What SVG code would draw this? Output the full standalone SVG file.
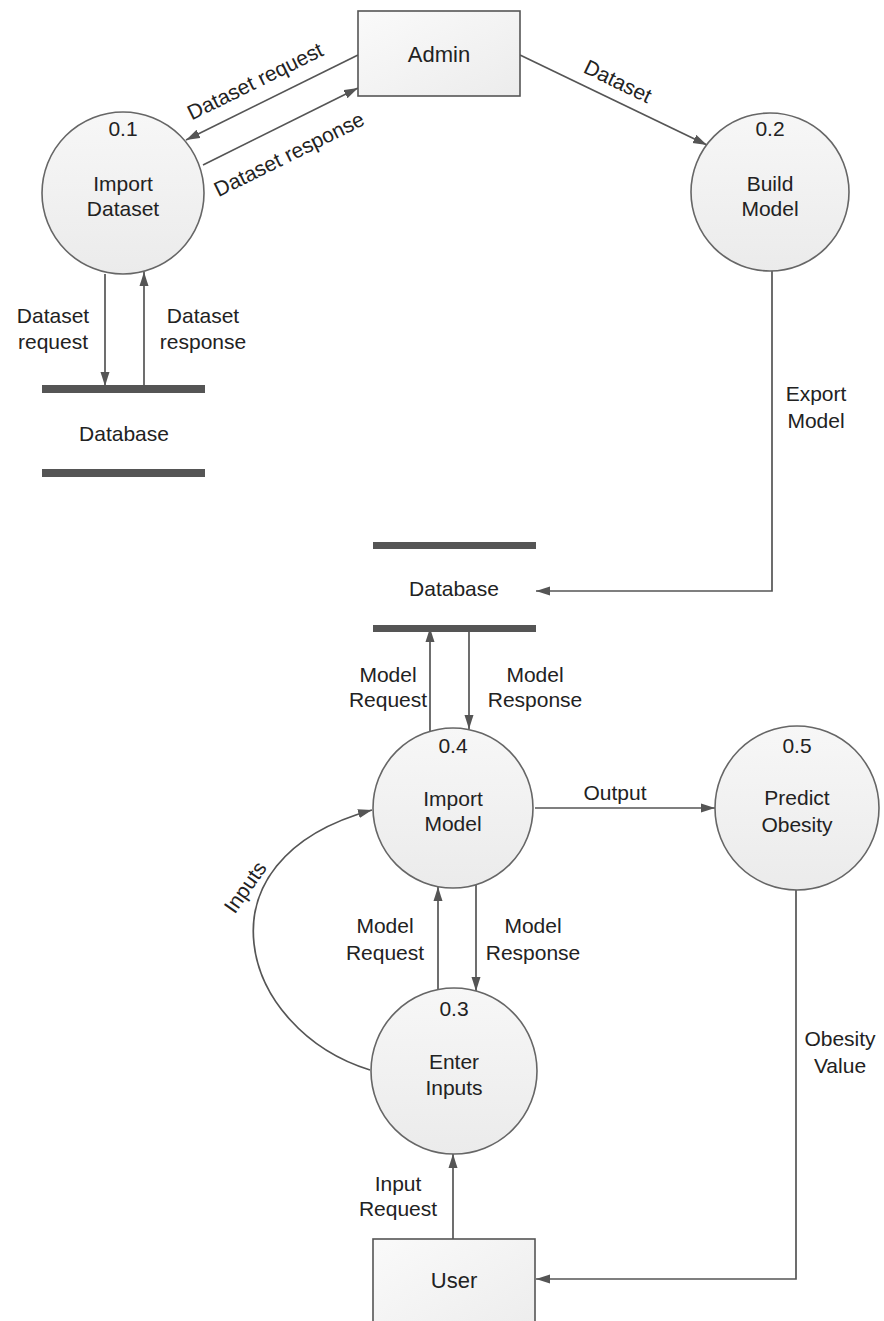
<svg xmlns="http://www.w3.org/2000/svg" width="884" height="1321" viewBox="0 0 884 1321">
  <defs>
    <linearGradient id="procFill" x1="0" y1="0" x2="0" y2="1">
      <stop offset="0" stop-color="#f7f7f7"/>
      <stop offset="1" stop-color="#ebebeb"/>
    </linearGradient>
    <linearGradient id="entFill" x1="0" y1="0" x2="1" y2="1">
      <stop offset="0" stop-color="#fafafa"/>
      <stop offset="1" stop-color="#ececec"/>
    </linearGradient>
    <marker id="arrow" viewBox="0 0 14 10" refX="14" refY="5" markerWidth="14" markerHeight="10" markerUnits="userSpaceOnUse" orient="auto">
      <path d="M0,0.5 L14,5 L0,9.5 Z" fill="#555"/>
    </marker>
    <style>
      text { font-family: "Liberation Sans", Arial, sans-serif; font-size: 21px; fill: #222; text-anchor: middle; dominant-baseline: central; }
      .proc { fill: url(#procFill); stroke: #666; stroke-width: 1.6; }
      .ent { fill: url(#entFill); stroke: #555; stroke-width: 1.6; }
      .store { fill: #555; }
      .flow { fill: none; stroke: #555; stroke-width: 1.7; marker-end: url(#arrow); }
      .big { font-size: 22px; }
    </style>
  </defs>

  <rect width="884" height="1321" fill="#ffffff"/>

  <!-- data flows -->
  <g id="connectors">
    <path class="flow" d="M358,55 L186,140"/>
    <path class="flow" d="M203,165 L358,88"/>
    <path class="flow" d="M520,55 L707,145"/>
    <path class="flow" d="M105,274 V386"/>
    <path class="flow" d="M144,386 V272"/>
    <path class="flow" d="M772,271 V591 H536"/>
    <path class="flow" d="M430,731 V628"/>
    <path class="flow" d="M469,628 V729"/>
    <path class="flow" d="M535,808 H715"/>
    <path class="flow" d="M438,990 V887"/>
    <path class="flow" d="M476,885 V991"/>
    <path class="flow" d="M370,1070 C240,1030 190,860 372,810"/>
    <path class="flow" d="M453,1239 V1154"/>
    <path class="flow" d="M796,890 V1279 H536"/>

    <!-- flow labels -->
    <text transform="translate(255,81) rotate(-26.3)">Dataset request</text>
    <text transform="translate(289,154) rotate(-26.4)">Dataset response</text>
    <text transform="translate(618,81) rotate(25.9)">Dataset</text>
    <text x="53" y="315">Dataset</text>
    <text x="53" y="341">request</text>
    <text x="203" y="315">Dataset</text>
    <text x="203" y="341">response</text>
    <text x="816" y="393">Export</text>
    <text x="816" y="420">Model</text>
    <text x="388" y="674">Model</text>
    <text x="388" y="699">Request</text>
    <text x="535" y="674">Model</text>
    <text x="535" y="699">Response</text>
    <text x="615" y="792">Output</text>
    <text transform="translate(245,887) rotate(-55)">Inputs</text>
    <text x="385" y="925">Model</text>
    <text x="385" y="952">Request</text>
    <text x="533" y="925">Model</text>
    <text x="533" y="952">Response</text>
    <text x="840" y="1038">Obesity</text>
    <text x="840" y="1065">Value</text>
    <text x="398" y="1183">Input</text>
    <text x="398" y="1208">Request</text>
  </g>

  <!-- external entities -->
  <g id="admin">
    <rect class="ent" x="358" y="11" width="162" height="85"/>
    <text class="big" x="439" y="54">Admin</text>
  </g>
  <g id="user">
    <rect class="ent" x="373" y="1239" width="162" height="100"/>
    <text class="big" x="454" y="1280">User</text>
  </g>

  <!-- processes -->
  <g id="p01">
    <circle class="proc" cx="123" cy="193" r="81"/>
    <text x="123" y="128">0.1</text>
    <text x="123" y="183">Import</text>
    <text x="123" y="208">Dataset</text>
  </g>
  <g id="p02">
    <circle class="proc" cx="770" cy="192" r="79"/>
    <text x="770" y="128">0.2</text>
    <text x="770" y="183">Build</text>
    <text x="770" y="208">Model</text>
  </g>
  <g id="p04">
    <circle class="proc" cx="453" cy="808" r="80"/>
    <text x="453" y="745">0.4</text>
    <text x="453" y="798">Import</text>
    <text x="453" y="823">Model</text>
  </g>
  <g id="p05">
    <circle class="proc" cx="797" cy="808" r="82"/>
    <text x="797" y="745">0.5</text>
    <text x="797" y="797">Predict</text>
    <text x="797" y="824">Obesity</text>
  </g>
  <g id="p03">
    <circle class="proc" cx="454" cy="1071" r="83"/>
    <text x="454" y="1008">0.3</text>
    <text x="454" y="1061">Enter</text>
    <text x="454" y="1087">Inputs</text>
  </g>

  <!-- data stores -->
  <g id="store-dataset">
    <rect class="store" x="42" y="385" width="163" height="8"/>
    <rect class="store" x="42" y="469" width="163" height="8"/>
    <text x="124" y="433">Database</text>
  </g>
  <g id="store-model">
    <rect class="store" x="373" y="542" width="163" height="7"/>
    <rect class="store" x="373" y="625" width="163" height="7"/>
    <text x="454" y="588">Database</text>
  </g>
</svg>
